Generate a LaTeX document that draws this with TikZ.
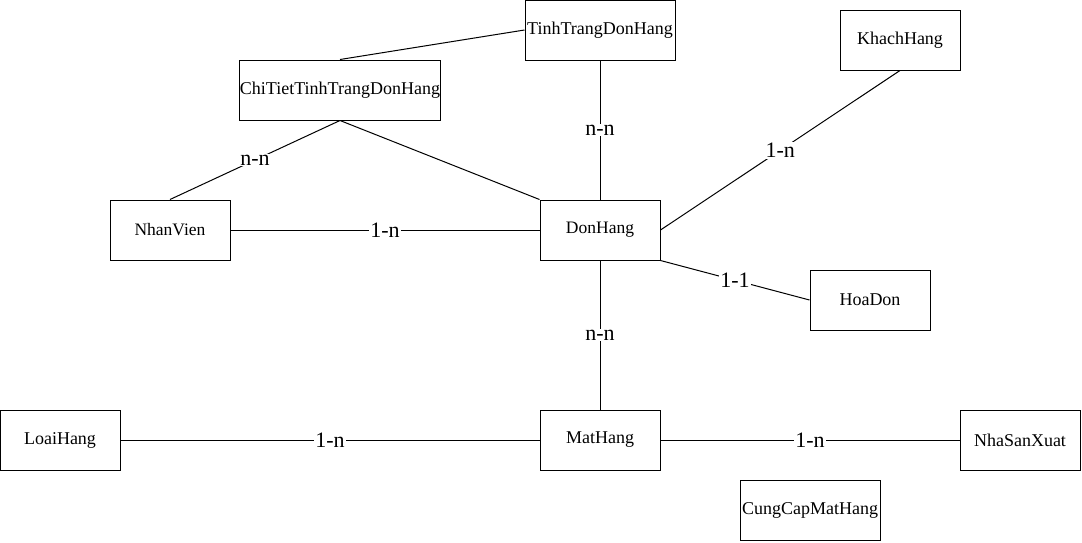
\documentclass[tikz,border=0pt]{standalone}
\usepackage{fontspec}
\setmainfont{Liberation Serif}
\begin{document}
\begin{tikzpicture}[x=1pt,y=-1pt,
  entity/.style={draw=black,line width=1pt,fill=white,inner sep=0pt,minimum height=60pt,font=\fontsize{18}{21}\selectfont},
  entsmall/.style={entity,font=\fontsize{17.5}{20}\selectfont},
  conn/.style={draw=black,line width=1pt},
  card/.style={fill=white,inner sep=1pt,font=\fontsize{22}{25}\selectfont}]
\useasboundingbox (0,0) rectangle (1082,542);
\node[entity,minimum width=150pt] (tt) at (600,30) {TinhTrangDonHang};
\node[entity,minimum width=200pt] (ct) at (340,90) {ChiTietTinhTrangDonHang};
\node[entity,minimum width=120pt] (kh) at (900,40) {KhachHang};
\node[entsmall,minimum width=120pt] (nv) at (170,230) {NhanVien};
\node[entsmall,minimum width=120pt] (dh) at (600,230) {DonHang};
\node[entity,minimum width=120pt] (hd) at (870,300) {HoaDon};
\node[entity,minimum width=120pt] (lh) at (60,440) {LoaiHang};
\node[entity,minimum width=120pt] (mh) at (600,440) {MatHang};
\node[entity,minimum width=120pt] (nsx) at (1020,440) {NhaSanXuat};
\node[entity,minimum width=140pt] (cc) at (810,510) {CungCapMatHang};
\draw[conn] (tt.west) -- (ct.north);
\draw[conn] (tt.south) -- node[card] {n-n} (dh.north);
\draw[conn] (ct.south) -- node[card] {n-n} (nv.north);
\draw[conn] (ct.south) -- (dh.north west);
\draw[conn] (nv.east) -- node[card] {1-n} (dh.west);
\draw[conn] (dh.east) -- node[card] {1-n} (kh.south);
\draw[conn] (dh.south east) -- node[card] {1-1} (hd.west);
\draw[conn] (dh.south) -- node[card] {n-n} (mh.north);
\draw[conn] (lh.east) -- node[card] {1-n} (mh.west);
\draw[conn] (mh.east) -- node[card] {1-n} (nsx.west);
\end{tikzpicture}
\end{document}
